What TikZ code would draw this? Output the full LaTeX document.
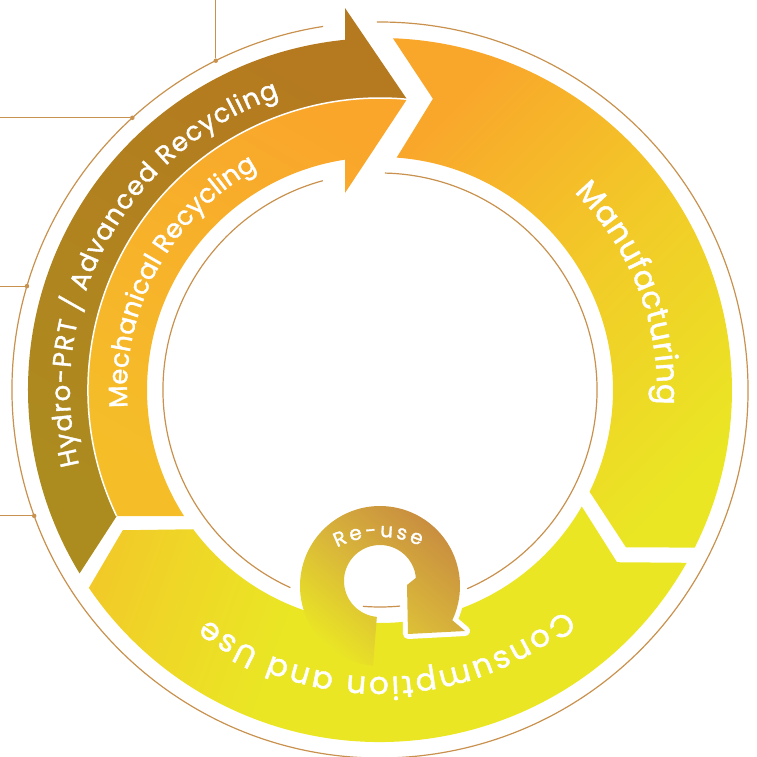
\documentclass[tikz,border=0pt]{standalone}
\usepackage{fontspec}
\setmainfont{Poppins}[FakeBold=1.4]
\usepackage{xcolor}
\usetikzlibrary{decorations.text}

\definecolor{guidetan}{HTML}{C8914D}
\definecolor{hydrotop}{HTML}{B5791F}
\definecolor{hydrobot}{HTML}{AC8C1F}
\definecolor{mechtop}{HTML}{F9A62B}
\definecolor{mechbot}{HTML}{F5BE29}
\definecolor{bandorange}{HTML}{F9A72B}
\definecolor{bandmid}{HTML}{F2CB28}
\definecolor{bandyellow}{HTML}{EAE624}
\definecolor{consorange}{HTML}{F4BE2A}
\definecolor{conswarm}{HTML}{EFD627}
\definecolor{loopbrown}{HTML}{C88C40}
\definecolor{loopgold}{HTML}{D9B63A}

% consumption band: warm at its left tip, plain yellow from the middle on
\pgfdeclarehorizontalshading{consshade}{100bp}{color(0bp)=(consorange); color(14bp)=(consorange);
    color(28bp)=(conswarm); color(40bp)=(bandyellow); color(100bp)=(bandyellow)}

\newcommand\hydrofont{\fontsize{26}{26}\selectfont}
\newcommand\mechfont{\fontsize{26}{26}\selectfont}
\newcommand\stagefont{\fontsize{31}{31}\selectfont}
\newcommand\reusefont{\fontsize{20}{20}\selectfont}

\tikzset{
    guideline/.style={draw=guidetan, line width=1.2pt},
    guidedot/.style={circle, fill=guidetan, inner sep=0pt, minimum size=4.5pt},
    hydrofill/.style={top color=hydrotop, bottom color=hydrobot, shading angle=-30},
    mechfill/.style={top color=mechtop, bottom color=mechbot, shading angle=-30},
    manufill/.style={top color=bandorange, bottom color=bandyellow, middle color=bandmid, shading angle=45},
    consfill/.style={shading=consshade, shading angle=-20},
    loopfill/.style={top color=loopbrown, bottom color=bandyellow, middle color=loopgold, shading angle=-40},
    bandlabel/.style={decorate, decoration={text along path, text color=white, text align={fit to path}, text={#1}}}
}

\begin{document}
\begin{tikzpicture}[x=1pt, y=1pt]
    \useasboundingbox (-380,-366) rectangle (377,390);
    \coordinate (topedge) at (0,390);
    \coordinate (leftedge) at (-380,0);

    % thin guide circles
    \draw[guideline] (98.9:368) arc[start angle=98.9, end angle=450.5, radius=368pt];
    \draw[guideline] (105.3:217) arc[start angle=105.3, end angle=245.6, radius=217pt];
    \draw[guideline] (-66.3:217) arc[start angle=-66.3, end angle=88.7, radius=217pt];
    \draw[guideline] (-94.5:217) arc[start angle=-94.5, end angle=-84.7, radius=217pt];

    % leader dots on the outer circle
    \node[guidedot] (dotA) at (116.5:368) {};
    \node[guidedot] (dotB) at (132.3:368) {};
    \node[guidedot] (dotC) at (163.6:368) {};
    \node[guidedot] (dotD) at (200:368) {};
    \draw[guideline] (dotA) -- (dotA |- topedge);
    \draw[guideline] (dotB) -- (dotB -| leftedge);
    \draw[guideline] (dotC) -- (dotC -| leftedge);
    \draw[guideline] (dotD) -- (dotD -| leftedge);

    % manufacturing
    \shade[manufill] (87.9:352) -- (79.7:296) -- (85.9:233) arc[start angle=85.9, end angle=-25.9, radius=233pt]
        -- (-32.6:292) -- (-26.6:352) arc[start angle=-26.6, end angle=87.9, radius=352pt] -- cycle;

    % consumption and use
    \shade[consfill] (-30:233) -- (-36:293) -- (-29.4:352) arc[start angle=-29.4, end angle=-145.8, radius=352pt]
        -- (-151.4:293) -- (-143.3:233) arc[start angle=-143.3, end angle=-30, radius=233pt] -- cycle;

    % recycling arrows
    \shade[hydrofill] (84.7:292) -- (-35,382) -- (95.7:352) arc[start angle=95.7, end angle=211.4, radius=352pt]
        -- (205.6:292) arc[start angle=205.6, end angle=84.7, radius=292pt] -- cycle;
    \shade[mechfill] (84.7:292) arc[start angle=84.7, end angle=205.6, radius=292pt]
        -- (212.8:233) arc[start angle=212.8, end angle=98.6, radius=233pt] -- (-35,197) -- cycle;
    \draw[white, line width=1.5pt] (205.6:292) arc[start angle=205.6, end angle=84.7, radius=292pt];

    % re-use loop
    \coordinate (headout) at (85,-241);
    \coordinate (headtip) at (28,-244);
    \coordinate (headin) at (27,-195);
    \draw[white, line width=10pt, line join=round] ([shift={(0,-196)}]5:80) arc[start angle=5, end angle=-25.3, radius=80pt]
        -- (headout) -- (headtip) -- (headin);
    \shade[loopfill] ([shift={(0,-196)}]265:80) arc[start angle=265, end angle=-25.3, radius=80pt]
        -- (headout) -- (headtip) -- (headin) -- ([shift={(0,-191)}]5:36) arc[start angle=5, end angle=265, radius=36pt] -- cycle;

    % labels
    \path[bandlabel={|\hydrofont|Hydro-PRT / Advanced Recycling}] (194:310) arc[start angle=194, end angle=109, radius=310pt];
    \path[bandlabel={|\mechfont|Mechanical Recycling}] (184:253) arc[start angle=184, end angle=119, radius=253pt];
    \path[bandlabel={|\stagefont|Manufacturing}] (45.5:277) arc[start angle=45.5, end angle=-3, radius=277pt];
    \path[bandlabel={|\stagefont|Consumption and Use}] (-50:287) arc[start angle=-50, end angle=-127, radius=287pt];
    \path[bandlabel={|\reusefont|Re-use}] ([shift={(0,-240)}]117.5:93) arc[start angle=117.5, end angle=64.5, radius=93pt];
\end{tikzpicture}
\end{document}
